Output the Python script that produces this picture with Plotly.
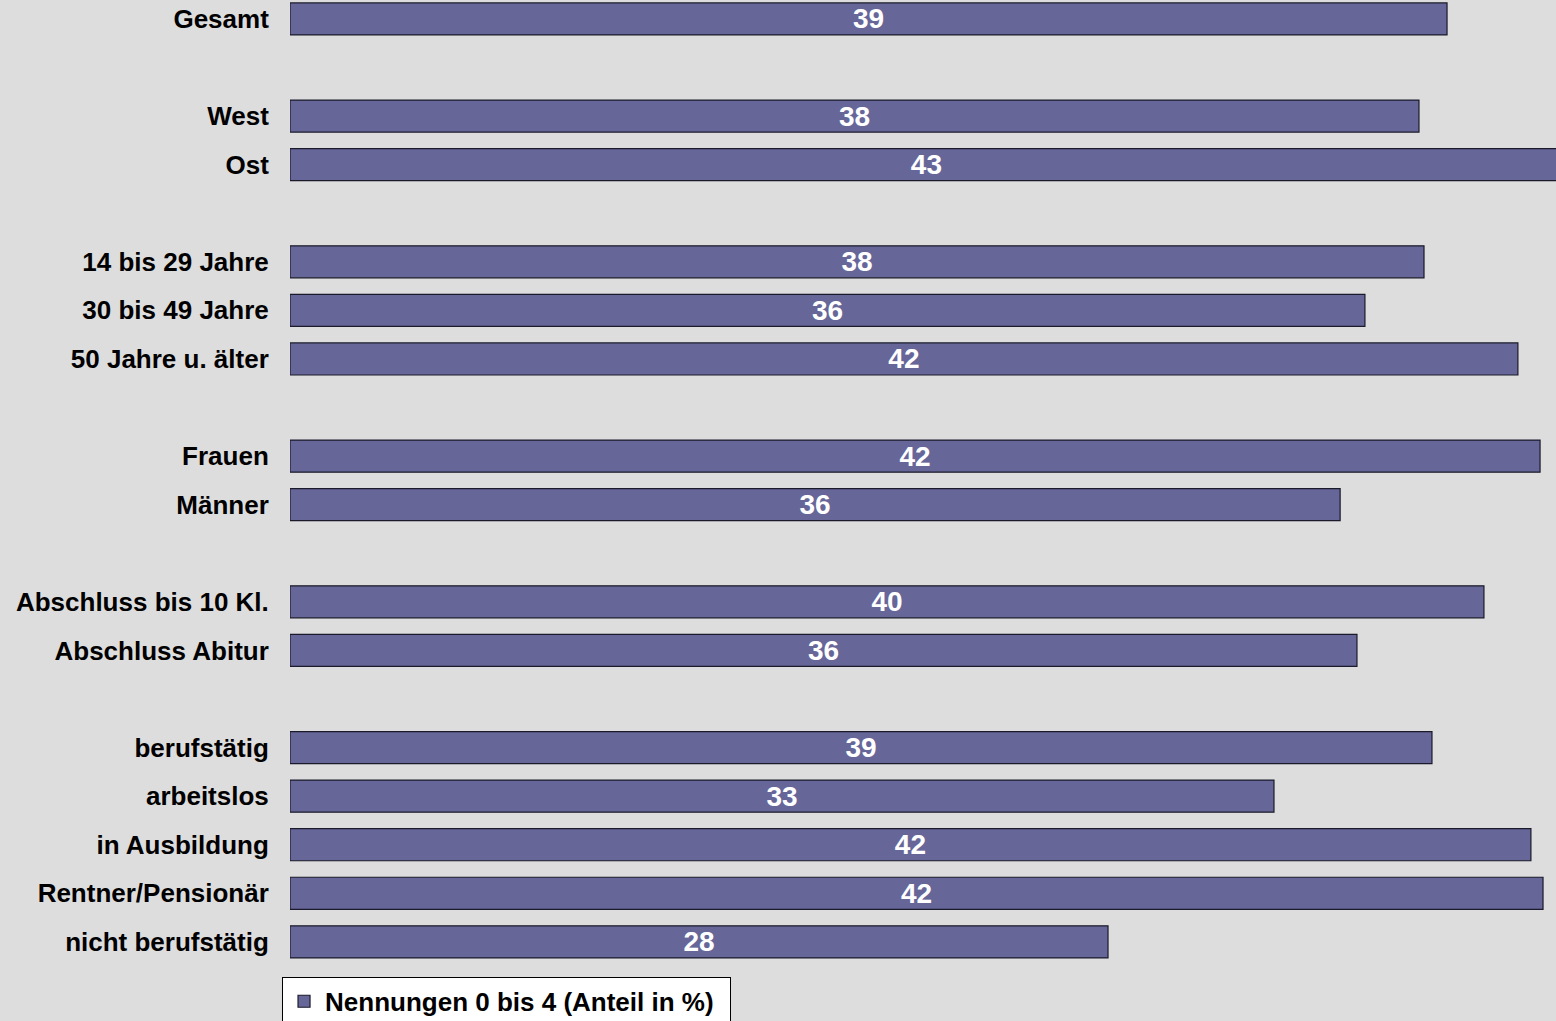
import plotly.graph_objects as go

# ---- data ----
categories = [
    "Gesamt",
    "West", "Ost",
    "14 bis 29 Jahre", "30 bis 49 Jahre", "50 Jahre u. älter",
    "Frauen", "Männer",
    "Abschluss bis 10 Kl.", "Abschluss Abitur",
    "berufstätig", "arbeitslos", "in Ausbildung", "Rentner/Pensionär", "nicht berufstätig",
]
group_sizes = [1, 2, 3, 2, 2, 5]
values = [39.18, 38.23, 43.1, 38.40, 36.40, 41.58, 42.33, 35.56, 40.43, 36.13,
          38.67, 33.32, 42.02, 42.43, 27.70]
value_labels = ["39", "38", "43", "38", "36", "42", "42", "36", "40", "36",
                "39", "33", "42", "42", "28"]
series_name = "Nennungen 0 bis 4 (Anteil in %)"

# ---- positions: one blank row between groups ----
ypos = []
row = 0
for gi, size in enumerate(group_sizes):
    for _ in range(size):
        ypos.append(row)
        row += 1
    row += 1  # spacer

FONT = "Liberation Sans, Arial, sans-serif"

fig = go.Figure()
fig.add_trace(go.Bar(
    x=values,
    y=ypos,
    orientation="h",
    name=series_name,
    width=0.66,
    marker=dict(color="#666699", line=dict(color="#1a1a2a", width=1.2)),
    text=value_labels,
    textposition="inside",
    insidetextanchor="middle",
    textangle=0,
    constraintext="none",
    textfont=dict(family=FONT, size=28, color="white", weight="bold"),
    cliponaxis=True,
    showlegend=True,
))

fig.update_layout(
    width=1556, height=1021,
    paper_bgcolor="#dddddd",
    plot_bgcolor="#dddddd",
    margin=dict(l=290, r=0, t=0, b=50, autoexpand=False),
    showlegend=True,
    xaxis=dict(range=[0, 42.87], showticklabels=False, showgrid=False,
               zeroline=False, showline=False, fixedrange=True),
    yaxis=dict(range=[19.6, -0.39], tickmode="array", tickvals=ypos,
               ticktext=categories, showgrid=False, zeroline=False,
               showline=False, ticks="outside", ticklen=15,
               tickcolor="rgba(0,0,0,0)",
               tickfont=dict(family=FONT, size=26, color="black", weight="bold")),
    legend=dict(
        orientation="h",
        x=-0.0063, xanchor="left",
        y=-0.006, yanchor="top",
        bgcolor="white", bordercolor="black", borderwidth=1,
        font=dict(family=FONT, size=26, color="black", weight="bold"),
        itemwidth=32,
        entrywidth=400, entrywidthmode="pixels",
    ),
)

fig.write_html(
    "out.html",
    config={"displayModeBar": False},
    post_script="document.body.style.margin='0';document.body.style.background='#dddddd';",
)
